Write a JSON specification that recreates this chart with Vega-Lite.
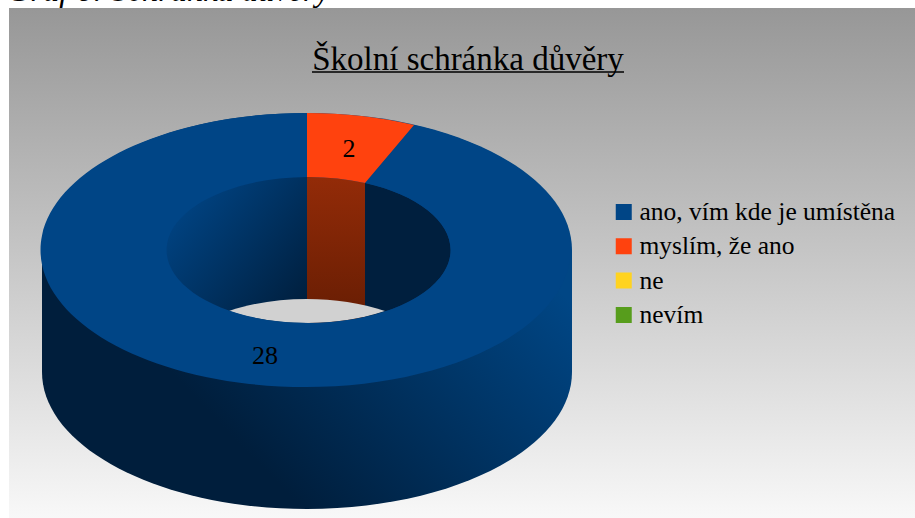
{
"$schema":"https://vega.github.io/schema/vega-lite/v6.json",
"width":915,"height":518,"padding":0,"autosize":{"type":"none"},
"background":"white",
"config":{"view":{"stroke":null},"axis":{"disable":true}},
"data":{"values":[
{"answer":"ano, vím kde je umístěna","count":28},
{"answer":"myslím, že ano","count":2},
{"answer":"ne","count":0},
{"answer":"nevím","count":0}]},
"layer":[
{"data":{"values":[{"part":"plot background"}]},
"mark":{"type":"rect","color":{"gradient":"linear","x1":0,"y1":0,"x2":0,"y2":1,"stops":[{"offset":0,"color":"#979797"},{"offset":1,"color":"#f8f8f8"}]}},
"encoding":{"x":{"datum":9,"type":"quantitative","scale":{"domain":[0,915],"range":[0,915],"nice":false,"zero":false}},"x2":{"datum":915},"y":{"datum":8,"type":"quantitative","scale":{"domain":[0,518],"range":[0,518],"nice":false,"zero":false}},"y2":{"datum":518}}},
{"data":{"values":[{"t":"Graf 6: Schránka důvěry"}]},
"mark":{"type":"text","font":"Liberation Serif","fontStyle":"italic","fontSize":32.4,"align":"left","baseline":"alphabetic","color":"black"},
"encoding":{"x":{"datum":7,"type":"quantitative"},"y":{"datum":1,"type":"quantitative"},"text":{"field":"t"}}},
{"data":{"values":[{"t":"Školní schránka důvěry"}]},
"mark":{"type":"text","font":"Liberation Serif","fontSize":33,"align":"center","baseline":"alphabetic","color":"black"},
"encoding":{"x":{"datum":468,"type":"quantitative"},"y":{"datum":70,"type":"quantitative"},"text":{"field":"t"}}},
{"data":{"values":[{"part":"title underline"}]},
"mark":{"type":"rule","color":"black","strokeWidth":1.5},
"encoding":{"x":{"datum":312,"type":"quantitative"},"x2":{"datum":624},"y":{"datum":72,"type":"quantitative"}}},
{"data":{"values":[{"part":"outer side"}]},
"mark":{"type":"point","filled":true,"opacity":1,"size":4,"strokeWidth":0,"shape":"M-265,0A265,137 0 0 1 265,0L265,122A265,137 0 0 1 -265,122Z",
"fill":{"gradient":"linear","x1":0.42,"y1":0.9,"x2":1,"y2":0.48,"stops":[{"offset":0,"color":"#001e3c"},{"offset":1,"color":"#004685"}]}},
"encoding":{"x":{"datum":307,"type":"quantitative"},"y":{"datum":250,"type":"quantitative"}}},
{"data":{"values":[{"part":"inner wall left"}]},
"mark":{"type":"point","filled":true,"opacity":1,"size":4,"strokeWidth":0,"shape":"M0,-73A142,73 0 0 0 0,73Z",
"fill":{"gradient":"linear","x1":0.05,"y1":0.2,"x2":0.95,"y2":0.95,"stops":[{"offset":0,"color":"#004484"},{"offset":1,"color":"#001e3c"}]}},
"encoding":{"x":{"datum":307,"type":"quantitative"},"y":{"datum":250,"type":"quantitative"}}},
{"data":{"values":[{"part":"inner wall orange"}]},
"mark":{"type":"point","filled":true,"opacity":1,"size":4,"strokeWidth":0,"shape":"M0,-73A142,73 0 0 1 58,-67L58,67A142,73 0 0 1 0,73Z",
"fill":{"gradient":"linear","x1":0,"y1":0,"x2":0,"y2":1,"stops":[{"offset":0,"color":"#932b08"},{"offset":1,"color":"#661d03"}]}},
"encoding":{"x":{"datum":307,"type":"quantitative"},"y":{"datum":250,"type":"quantitative"}}},
{"data":{"values":[{"part":"inner wall right"}]},
"mark":{"type":"point","filled":true,"opacity":1,"size":4,"strokeWidth":0,"shape":"M58,-67A142,73 0 0 1 58,67Z","fill":"#001f3e"},
"encoding":{"x":{"datum":307,"type":"quantitative"},"y":{"datum":250,"type":"quantitative"}}},
{"data":{"values":[{"part":"see-through gap"}]},
"mark":{"type":"point","filled":true,"opacity":1,"size":4,"strokeWidth":0,"shape":"M-78,61A142,73 0 0 1 78,61A142,73 0 0 1 -78,61Z","fill":"#d1d1d1"},
"encoding":{"x":{"datum":307,"type":"quantitative"},"y":{"datum":250,"type":"quantitative"}}},
{"transform":[{"filter":"datum.count == 28"}],
"mark":{"type":"point","filled":true,"opacity":1,"size":4,"strokeWidth":0,"shape":"M107,-125A265,137 0 1 1 0,-137L0,-73A142,73 0 1 0 58,-67Z"},
"encoding":{"x":{"datum":307,"type":"quantitative"},"y":{"datum":250,"type":"quantitative"},
"color":{"field":"answer","type":"nominal","sort":null,"scale":{"domain":["ano, vím kde je umístěna","myslím, že ano","ne","nevím"],"range":["#004586","#ff420e","#ffd320","#579d1c"]},
"legend":{"title":null,"orient":"none","legendX":611,"legendY":202,"symbolType":"square","symbolSize":256,"symbolStrokeWidth":0,"symbolOpacity":1,"labelFont":"Liberation Serif","labelFontSize":25.5,"labelColor":"black","labelOffset":3,"rowPadding":8.3,"padding":0,"labelLimit":400,"clipHeight":20}}}},
{"transform":[{"filter":"datum.count == 2"}],
"mark":{"type":"point","filled":true,"opacity":1,"size":4,"strokeWidth":0,"shape":"M0,-137A265,137 0 0 1 107,-125L58,-67A142,73 0 0 0 0,-73Z"},
"encoding":{"x":{"datum":307,"type":"quantitative"},"y":{"datum":250,"type":"quantitative"},"color":{"field":"answer","type":"nominal"}}},
{"transform":[{"filter":"datum.count == 2"}],
"mark":{"type":"text","font":"Liberation Serif","fontSize":26,"align":"center","baseline":"alphabetic","color":"black"},
"encoding":{"x":{"datum":349,"type":"quantitative"},"y":{"datum":157,"type":"quantitative"},"text":{"field":"count","type":"quantitative"}}},
{"transform":[{"filter":"datum.count == 28"}],
"mark":{"type":"text","font":"Liberation Serif","fontSize":26,"align":"center","baseline":"alphabetic","color":"black"},
"encoding":{"x":{"datum":265,"type":"quantitative"},"y":{"datum":364,"type":"quantitative"},"text":{"field":"count","type":"quantitative"}}}
]}
